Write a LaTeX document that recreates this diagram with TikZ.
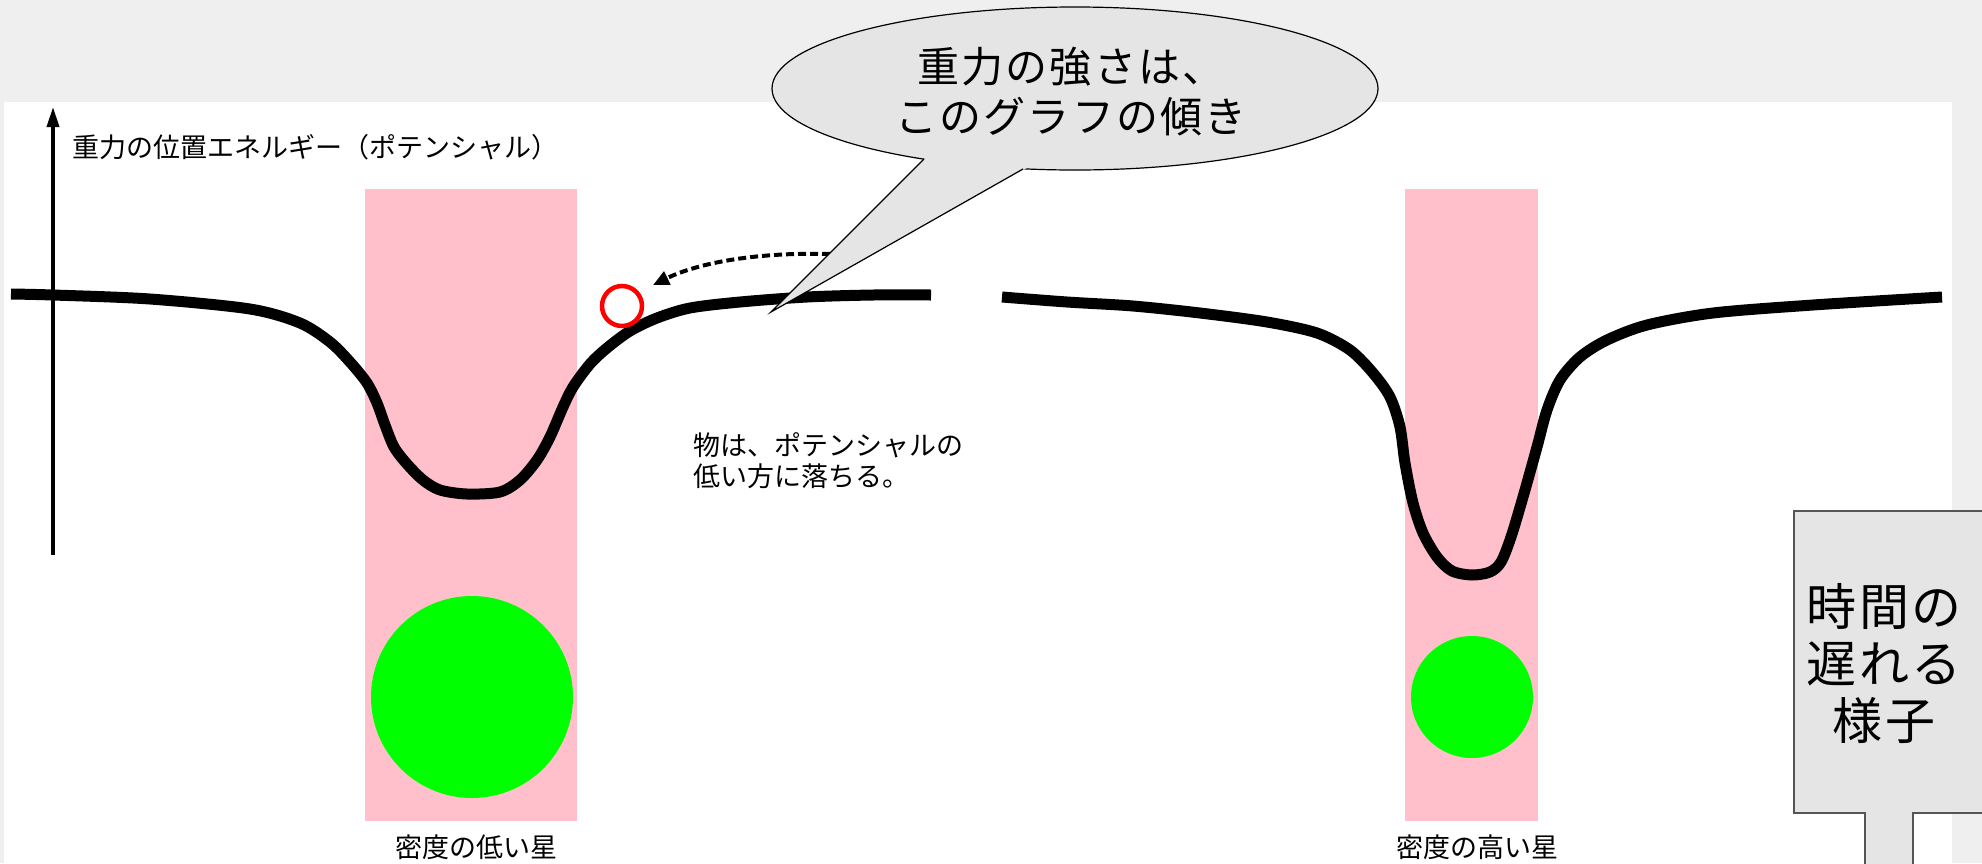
\documentclass[tikz,border=0pt]{standalone}
\usepackage{fontspec}
\setmainfont{Noto Sans CJK JP}
\newfontfamily\jpfont{Noto Sans CJK JP}
\newfontfamily\jpspaced[LetterSpace=5]{Noto Sans CJK JP}
\usetikzlibrary{arrows.meta}
\definecolor{bgtex}{HTML}{EFEFEF}
\definecolor{starpink}{HTML}{FFC0CB}
\definecolor{stargreen}{HTML}{00FF00}
\definecolor{bubblegray}{HTML}{E5E5E5}
\definecolor{boxline}{HTML}{555555}
\tikzset{
  potential/.style={line width=11pt, black, line cap=butt, line join=round},
  smalltext/.style={font=\jpfont\fontsize{27}{31}\selectfont, inner sep=0pt},
  bubbletext/.style={font=\jpspaced\fontsize{42}{50}\selectfont, align=center, inner sep=0pt},
  boxtext/.style={font=\jpspaced\fontsize{50}{57}\selectfont, align=center, inner sep=0pt},
  star/.style={circle, fill=stargreen, inner sep=0pt},
  ballstyle/.style={circle, draw=red, line width=4.5pt, inner sep=0pt, minimum size=40pt},
  fallarrow/.style={line width=4pt, dash pattern=on 8pt off 4pt, -{Triangle[length=16pt,width=14pt]}},
}
\begin{document}
\begin{tikzpicture}[x=1pt,y=-1pt]
\useasboundingbox (0,0) rectangle (1982,863);
% background
\fill[bgtex] (0,0) rectangle (1982,863);
\fill[white] (4,102) rectangle (1952,863);

% pink density bands
\fill[starpink] (365,189) rectangle (577,821);
\fill[starpink] (1405,189) rectangle (1538,821);

% stars
\node[star, minimum size=202pt] (star1) at (472,697) {};
\node[star, minimum size=122pt] (star2) at (1472,697) {};

% axis
\coordinate (axbot) at (53,555);
\coordinate (axtop) at (53,107);
\draw[line width=3.5pt, -{Triangle[length=20pt,width=12pt]}] (axbot) -- (axtop);
\node[smalltext, anchor=west] (axlabel) at (72,147) {重力の位置エネルギー（ポテンシャル）};

% left potential curve
\draw[potential] plot[smooth, tension=0.5] coordinates {
 (11,294) (53,295) (150,299) (250,309) (300,323) (330,342) (350,362) (367,383)
 (377,403) (385,425) (394,447) (407,464) (423,480) (440,490) (467,494) (500,492)
 (520,480) (537,460) (550,437) (563,407) (573,387) (590,364) (607,348) (630,331)
 (657,318) (690,308) (740,302) (807,297) (873,295) (931,295)};

% right potential curve
\draw[potential] plot[smooth, tension=0.5] coordinates {
 (1002,297) (1067,302) (1133,306) (1200,313) (1267,322) (1317,333) (1350,350) (1373,373)
 (1390,397) (1400,427) (1405,463) (1413,503) (1423,533) (1437,557) (1452,571) (1472,575)
 (1490,572) (1501,562) (1511,537) (1523,497) (1537,447) (1547,410) (1560,380) (1580,357)
 (1607,340) (1647,325) (1713,313) (1813,305) (1942,297)};

% ball
\node[ballstyle] (ball) at (622,306) {};

% falling arrow
\coordinate (arrstart) at (830,254);
\coordinate (arrtip) at (653,285);
\draw[fallarrow] (arrstart) .. controls (760,252) and (700,262) .. (arrtip);

% speech bubble
\fill[bubblegray, draw=black, line width=1.2pt] (1075,88.5) ellipse [x radius=303, y radius=81.5];
\coordinate (tip) at (771,312);
\coordinate (bl) at (924,159);
\coordinate (br) at (1023,169);
\fill[bubblegray] (tip) -- (950,133) -- (1071,143) -- cycle;
\draw[line width=1.2pt, line join=miter] (bl) -- (tip) -- (br);
\node[bubbletext] (bubble) at (1071,92) {重力の強さは、\\このグラフの傾き};

% annotation
\node[smalltext, anchor=north west, align=left] (note) at (693,432) {物は、ポテンシャルの\\低い方に落ちる。};

% star labels
\node[smalltext] (lab1) at (476,847) {密度の低い星};
\node[smalltext] (lab2) at (1477,847) {密度の高い星};

% time box
\fill[bubblegray, draw=boxline, line width=1.5pt]
  (1794,511) -- (1995,511) -- (1995,813) -- (1913,813) -- (1913,875)
  -- (1865,875) -- (1865,813) -- (1794,813) -- cycle;
\node[boxtext] (timebox) at (1884,664) {時間の\\遅れる\\様子};
\end{tikzpicture}
\end{document}
